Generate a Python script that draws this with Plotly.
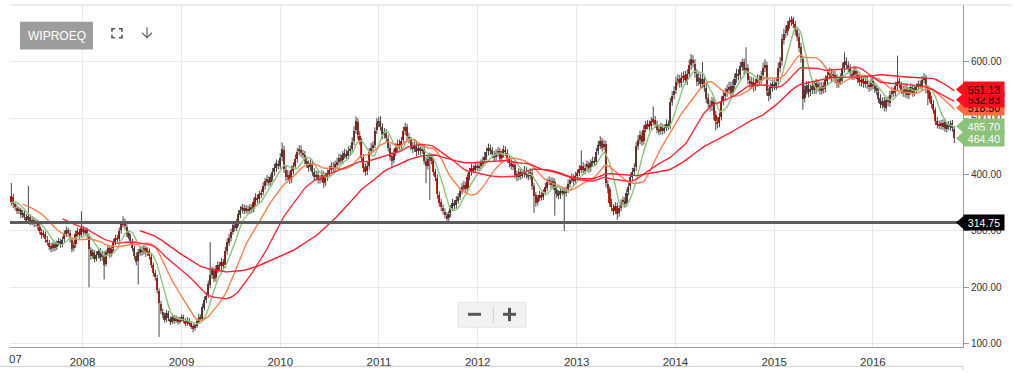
import pandas as pd
import plotly.graph_objects as go

# ---------------- weekly OHLC data, one list per year ----------------
open_2007 = [342,346,351,355,349,353,359,354,346,341,346,351,357,354,351,360,347,341,336,337,329,331,324,319,325,316,319,313,315,307,299,293,294,284,279,273,269,275,271,279,281,276,285,295,301,297,284,269,276,294,299,293]
high_2007 = [351,355,362,359,357,367,364,358,351,351,357,362,365,360,385,366,352,347,343,341,338,336,330,380,330,326,324,322,320,313,304,301,299,291,284,279,281,281,283,288,286,290,301,308,306,302,288,281,301,306,304,335]
low_2007 = [337,342,346,342,345,348,349,342,334,337,341,347,348,344,345,341,336,330,330,323,323,319,313,313,310,310,307,307,302,294,286,288,279,274,266,262,264,264,266,273,270,271,280,289,292,279,262,264,270,289,286,288]
close_2007 = [345,350,356,348,352,360,355,347,340,345,352,356,355,350,362,348,342,335,338,328,332,325,318,326,315,320,312,316,308,300,292,295,285,280,272,268,276,270,278,282,275,284,296,302,298,285,268,275,295,300,292,305]

open_2008 = [303,297,301,290,266,256,261,251,257,264,253,258,242,261,269,259,269,281,287,286,301,311,317,307,296,289,281,269,256,246,261,267,263,269,261,264,254,239,226,217,193,171,157,151,143,154,144,139,147,141,144,139]
high_2008 = [309,307,306,296,271,268,266,264,270,270,265,264,267,276,274,274,286,293,293,306,317,326,322,312,301,295,286,274,262,268,273,273,275,274,271,269,259,244,231,222,198,176,162,155,160,158,148,153,151,150,148,147]
low_2008 = [293,292,286,200,249,251,244,246,251,246,247,214,237,256,252,254,264,275,280,281,295,306,302,289,285,276,264,249,239,205,256,256,258,254,256,249,234,219,212,189,112,152,145,137,138,140,133,135,135,137,134,135]
close_2008 = [298,302,292,268,255,262,250,258,265,252,260,240,262,270,258,268,280,288,285,300,312,318,308,295,290,282,270,255,245,262,268,262,270,260,265,255,240,225,218,195,172,158,150,142,155,145,138,148,140,145,138,142]

open_2009 = [143,147,141,136,141,136,131,127,132,139,147,146,164,177,186,204,221,229,216,231,239,237,244,240,264,279,287,299,309,306,314,329,337,341,337,339,336,341,339,351,359,356,364,369,379,387,391,386,394,404,411,419]
high_2009 = [152,151,145,147,145,140,135,137,145,153,152,171,184,191,212,280,236,235,239,246,245,252,250,272,287,295,304,317,315,321,337,344,348,347,346,345,348,347,358,367,365,371,374,387,394,399,397,401,412,419,427,425]
low_2009 = [139,136,131,132,131,126,120,123,128,135,140,141,159,172,181,198,215,209,210,225,230,231,232,234,258,273,281,293,299,300,308,323,331,330,331,329,330,332,333,345,349,350,358,363,373,381,379,380,388,398,405,409]
close_2009 = [148,140,135,142,135,130,126,133,140,148,145,165,178,185,205,222,230,215,232,240,236,245,238,265,280,288,298,310,305,315,330,338,342,336,340,335,342,338,352,360,355,365,368,380,388,392,385,395,405,412,420,415]

open_2010 = [416,431,444,409,396,399,391,407,416,427,441,444,437,434,424,417,413,419,404,396,399,391,393,399,386,396,401,409,414,411,417,423,429,426,434,437,433,441,446,459,479,494,469,459,429,413,406,416,441,447,453,479,491]
high_2010 = [438,457,451,416,408,406,416,422,436,447,452,452,444,442,431,425,427,426,412,407,407,399,408,406,403,409,416,422,422,425,430,437,437,442,446,444,450,452,466,486,503,500,477,465,436,420,423,447,456,459,484,500,502]
low_2010 = [410,424,403,388,390,383,385,400,409,421,434,431,428,418,412,405,407,398,389,389,384,384,387,376,380,389,395,402,404,404,411,416,419,419,428,425,427,434,439,452,472,462,453,422,404,398,399,409,434,440,447,472,484]
close_2010 = [430,445,410,395,400,390,408,415,428,440,445,438,435,425,418,412,420,405,395,400,390,392,400,385,395,402,408,415,410,418,422,430,425,435,438,432,442,445,458,478,495,470,460,430,412,405,415,440,448,452,478,492,495]

open_2011 = [496,484,471,474,464,447,433,426,439,447,454,451,461,477,484,467,461,451,446,451,441,447,443,445,424,416,427,431,424,404,394,364,351,341,334,327,323,331,341,349,346,354,361,371,377,381,376,396,404,411,409,414]
high_2011 = [504,491,483,481,470,454,440,445,456,462,462,467,485,492,490,474,467,458,459,457,455,453,453,451,431,435,439,437,430,410,400,370,357,347,340,333,336,346,357,355,362,367,377,385,389,387,402,412,419,417,422,420]
low_2011 = [478,463,464,458,441,425,412,420,433,440,443,445,455,470,461,455,443,438,440,433,435,435,437,418,385,409,355,418,398,388,357,343,335,329,322,316,317,325,335,339,340,348,355,365,371,368,370,390,398,402,403,406]
close_2011 = [485,470,475,465,448,432,425,438,448,455,450,460,478,485,468,462,450,445,452,440,448,442,446,425,415,428,432,425,405,395,365,350,342,335,328,322,330,340,350,345,355,360,370,378,382,375,395,405,412,408,415,412]

open_2012 = [413,416,419,426,431,441,447,443,435,431,437,441,429,436,444,439,427,421,414,417,401,396,404,399,401,407,401,397,403,379,363,351,359,363,361,369,377,387,389,383,387,373,366,363,369,371,367,373,383,391,394,389]
high_2012 = [422,427,432,440,448,455,453,449,442,445,449,447,442,452,450,445,434,427,424,423,407,412,410,408,415,413,407,411,409,385,369,364,371,369,374,385,393,397,395,395,393,379,372,376,376,377,379,391,396,402,400,405]
low_2012 = [407,410,413,420,425,434,435,429,423,425,431,421,423,430,433,421,413,409,408,393,388,390,391,393,395,393,390,391,373,332,343,345,353,354,355,363,371,381,375,377,327,359,356,357,363,300,361,367,377,385,382,383]
close_2012 = [415,420,425,432,440,448,442,436,430,438,442,428,435,445,440,428,420,415,418,400,395,405,398,402,408,400,396,404,380,362,350,358,364,360,368,378,386,390,382,388,372,365,362,370,370,366,372,384,390,395,388,398]

open_2013 = [399,403,409,416,407,413,417,411,421,424,423,441,451,459,449,455,384,374,351,341,336,344,331,341,351,354,349,369,379,396,404,413,451,461,469,459,481,487,489,486,494,497,489,481,477,483,479,483,489,487,529,541]
high_2013 = [409,417,443,422,419,425,423,427,432,431,447,460,468,465,462,460,390,379,357,347,351,350,346,356,361,360,374,385,402,412,420,458,470,478,476,488,495,497,496,502,521,504,496,488,492,490,489,498,496,536,548,557]
low_2013 = [393,397,403,401,401,407,403,405,415,415,417,435,445,441,443,377,367,343,335,328,330,320,325,335,345,341,343,363,373,389,398,406,444,454,451,453,475,480,478,480,487,483,473,470,471,471,473,477,479,481,522,534]
close_2013 = [402,410,415,408,412,418,410,420,425,422,440,452,460,448,455,385,375,350,342,335,345,330,340,350,355,348,368,378,395,405,412,450,462,470,458,480,488,490,485,495,498,490,480,476,484,478,482,490,486,528,540,548]

open_2014 = [550,566,569,563,571,576,567,579,594,604,597,579,566,571,561,569,554,536,524,521,529,506,494,491,503,531,539,546,551,557,546,559,571,579,576,591,599,586,589,567,561,564,556,563,569,566,576,589,594,547,541,554]
high_2014 = [574,578,577,581,583,584,587,604,614,612,605,587,581,579,600,577,562,544,532,538,537,513,502,510,539,548,554,560,565,565,567,579,588,587,600,606,606,626,596,575,573,572,570,578,577,584,599,605,600,554,563,569]
low_2014 = [543,558,554,555,563,560,559,571,586,590,572,557,558,552,553,547,527,517,512,513,497,478,482,484,496,523,532,538,544,537,539,552,563,567,569,584,577,579,560,552,553,547,549,556,557,558,569,582,540,530,534,547]
close_2014 = [565,570,562,572,575,568,578,595,605,598,580,565,572,560,570,555,535,525,520,530,505,495,490,502,530,540,545,552,556,545,558,570,580,575,592,600,585,590,568,560,565,555,562,570,565,575,590,595,548,540,555,560]

open_2015 = [561,557,566,589,601,639,651,654,666,671,676,667,656,644,626,605,536,549,559,546,551,559,551,561,556,549,557,553,567,576,581,573,577,571,561,567,573,589,601,594,589,579,576,584,577,571,564,569,561,567,559,556]
high_2015 = [569,573,599,609,649,659,664,673,679,681,680,673,663,652,634,611,559,566,566,560,566,566,570,568,564,564,564,576,583,590,588,586,584,578,574,580,599,617,608,601,596,586,593,591,584,578,575,576,573,574,566,573]
low_2015 = [550,550,558,581,593,631,643,647,659,664,660,647,637,617,599,515,528,542,537,539,543,543,543,547,542,542,544,546,559,569,564,565,562,554,554,559,565,581,587,580,572,568,568,570,562,557,556,554,554,552,547,549]
close_2015 = [558,565,590,600,640,650,655,665,672,675,668,655,645,625,608,535,550,558,545,552,558,550,562,555,550,556,552,568,575,582,572,578,570,562,566,572,590,600,595,588,580,575,585,578,570,565,568,562,566,560,555,565]

open_2016 = [566,557,553,547,536,524,531,519,533,527,543,547,546,557,566,559,551,544,553,541,549,554,546,551,556,561,557,569,571,551,546,534,526,514,496,487,491,485,493,481,489,484,491,481]
high_2016 = [573,564,560,553,543,537,538,538,539,549,555,554,565,611,572,565,558,559,559,555,562,560,559,562,567,567,575,580,577,558,552,540,532,519,502,496,497,498,499,494,495,496,497,486]
low_2016 = [551,545,541,527,518,517,512,512,521,520,536,538,539,550,553,543,538,537,535,534,542,538,539,544,549,551,550,562,544,523,528,518,508,488,482,481,480,479,476,475,479,478,476,456]
close_2016 = [558,552,548,535,525,530,520,532,528,542,548,545,558,565,560,550,545,552,542,548,555,545,552,555,560,558,568,572,552,545,535,525,515,495,488,490,486,492,482,488,485,490,482,464.4]

first_week = "2007-01-05"  # first weekly bar (Fridays)

# moving-average periods (in weekly bars) and their colours
ma_periods = [8, 21, 42, 83]
ma_colors = ["#8cc47c", "#ff7f50", "#ff2b3c", "#ff1f2f"]

# right-hand value callouts: (text, value, background, text colour)
callout_texts = ["518.50", "532.83", "551.13", "485.70", "464.40", "314.75"]
callout_values = [518.50, 532.83, 551.13, 485.70, 464.40, 314.75]
callout_bg = ["#ff6a3d", "#ff0d1e", "#ff0d1e", "#8cc27a", "#8cc27a", "#000000"]
callout_fg = ["#000000", "#000000", "#000000", "#ffffff", "#ffffff", "#ffffff"]

support_level = 314.75
year_ticks = list(range(2008, 2017))
y_ticks = [100, 200, 300, 400, 500, 600]
Y_RANGE = [94, 701]
X_RANGE = ["2007-04-08", "2016-11-29"]

# ---------------- assemble ----------------
yrs = range(2007, 2017)
opens = sum([globals()[f"open_{y}"] for y in yrs], [])
highs = sum([globals()[f"high_{y}"] for y in yrs], [])
lows = sum([globals()[f"low_{y}"] for y in yrs], [])
closes = sum([globals()[f"close_{y}"] for y in yrs], [])
dates = pd.date_range(first_week, periods=len(closes), freq="W-FRI")

fig = go.Figure()

# wicks
wx, wy = [], []
for d, h, l in zip(dates, highs, lows):
    wx += [d, d, None]
    wy += [l, h, None]
fig.add_trace(go.Scatter(x=wx, y=wy, mode="lines", line=dict(color="#333333", width=0.9),
                         hoverinfo="skip", showlegend=False))

# bodies
bases = [min(o, c) for o, c in zip(opens, closes)]
heights = [max(abs(c - o), 1.0) for o, c in zip(opens, closes)]
body_colors = ["#cc2a1c" if c < o else "#a8261a" for o, c in zip(opens, closes)]
fig.add_trace(go.Bar(x=dates, y=heights, base=bases, width=6 * 86400000,
                     marker=dict(color=body_colors, line=dict(width=0)),
                     hoverinfo="skip", showlegend=False))

# moving averages
s = pd.Series(closes, index=dates)
for p, col in zip(ma_periods, ma_colors):
    ma = s.rolling(p).mean()
    fig.add_trace(go.Scatter(x=dates, y=ma.values, mode="lines",
                             line=dict(color=col, width=1.4), hoverinfo="skip", showlegend=False))

# ---------------- layout ----------------
W, H = 1015, 373
ML, MR, MT, MB = 10, 52, 5, 23
PW, PH = W - ML - MR, H - MT - MB


def px(x):
    return (x - ML) / PW


def py(y):
    return (H - MB - y) / PH


def pv(v):
    return (v - Y_RANGE[0]) / (Y_RANGE[1] - Y_RANGE[0])


FONT = "Liberation Sans, Arial, Helvetica, sans-serif"

fig.update_layout(
    width=W, height=H,
    margin=dict(l=ML, r=MR, t=MT, b=MB),
    paper_bgcolor="white", plot_bgcolor="white",
    showlegend=False, bargap=0,
    font=dict(family=FONT, color="#333333"),
    xaxis=dict(type="date", range=X_RANGE,
               tickvals=[f"{y}-01-01" for y in year_ticks], ticktext=[str(y) for y in year_ticks],
               tickfont=dict(size=11.5, color="#333333"), ticklabelstandoff=4,
               showgrid=True, gridcolor="#e8e8e8", gridwidth=1,
               showline=True, linecolor="#9a9a9a", linewidth=1, zeroline=False, ticks=""),
    yaxis=dict(side="right", range=Y_RANGE, tickvals=y_ticks,
               ticktext=[f"{v:.2f}" for v in y_ticks],
               tickfont=dict(size=10, color="#333333"),
               ticks="outside", ticklen=5, tickcolor="#9a9a9a",
               showgrid=True, gridcolor="#e8e8e8", gridwidth=1,
               showline=True, linecolor="#9a9a9a", linewidth=1, zeroline=False),
)

shapes = []
# support line
shapes.append(dict(type="line", xref="paper", yref="y", x0=0, x1=1, y0=support_level, y1=support_level,
                   line=dict(color="#5c5c5c", width=3), layer="above"))
# top frame line and bottom navigator line
shapes.append(dict(type="line", xref="paper", yref="paper", x0=0, x1=px(1012), y0=1, y1=1,
                   line=dict(color="#dadada", width=1)))
shapes.append(dict(type="line", xref="paper", yref="paper", x0=px(0), x1=1, y0=py(369.5), y1=py(369.5),
                   line=dict(color="#cccccc", width=1)))
shapes.append(dict(type="line", xref="paper", yref="paper", x0=1, x1=1, y0=py(369.5), y1=py(373),
                   line=dict(color="#cccccc", width=1)))
# title button
shapes.append(dict(type="rect", xref="paper", yref="paper", x0=px(20), x1=px(93), y0=py(50), y1=py(22),
                   fillcolor="#9d9d9d", line=dict(width=0), layer="above"))
# fullscreen icon corners
L_, R_, T_, B_, a = 112, 122, 29, 38, 3
corner = (f"M{px(L_)},{py(T_+a)} L{px(L_)},{py(T_)} L{px(L_+a)},{py(T_)} "
          f"M{px(R_-a)},{py(T_)} L{px(R_)},{py(T_)} L{px(R_)},{py(T_+a)} "
          f"M{px(R_)},{py(B_-a)} L{px(R_)},{py(B_)} L{px(R_-a)},{py(B_)} "
          f"M{px(L_+a)},{py(B_)} L{px(L_)},{py(B_)} L{px(L_)},{py(B_-a)}")
shapes.append(dict(type="path", xref="paper", yref="paper", path=corner,
                   line=dict(color="#555555", width=1.6), layer="above"))
# download arrow
arrow = (f"M{px(147)},{py(27.5)} L{px(147)},{py(38)} "
         f"M{px(142)},{py(33)} L{px(147)},{py(38)} L{px(152)},{py(33)}")
shapes.append(dict(type="path", xref="paper", yref="paper", path=arrow,
                   line=dict(color="#666666", width=1.2), layer="above"))
# zoom buttons
shapes.append(dict(type="rect", xref="paper", yref="paper", x0=px(458), x1=px(526), y0=py(330), y1=py(305),
                   fillcolor="#f2f2f2", line=dict(color="#e3e3e3", width=1), layer="above"))
shapes.append(dict(type="rect", xref="paper", yref="paper", x0=px(468), x1=px(481), y0=py(318.5), y1=py(315.5),
                   fillcolor="#555555", line=dict(width=0), layer="above"))
shapes.append(dict(type="rect", xref="paper", yref="paper", x0=px(503), x1=px(516), y0=py(318.5), y1=py(315.5),
                   fillcolor="#555555", line=dict(width=0), layer="above"))
shapes.append(dict(type="rect", xref="paper", yref="paper", x0=px(508), x1=px(511), y0=py(324), y1=py(310.5),
                   fillcolor="#555555", line=dict(width=0), layer="above"))
shapes.append(dict(type="line", xref="paper", yref="paper", x0=px(493.3), x1=px(493.3), y0=py(326), y1=py(309),
                   line=dict(color="#cfcfcf", width=1), layer="above"))
# callout tips
half = 7.5 / PH
for v, bg in zip(callout_values, callout_bg):
    yc = pv(v)
    shapes.append(dict(type="path", xref="paper", yref="paper",
                       path=f"M{px(956)},{yc} L{px(964.5)},{yc + half} L{px(964.5)},{yc - half} Z",
                       fillcolor=bg, line=dict(width=0), layer="above"))

fig.update_layout(shapes=shapes)

ann = []
ann.append(dict(xref="paper", yref="paper", x=px(7), y=py(362.5), xanchor="left", yanchor="middle",
                text="07", showarrow=False, font=dict(size=11.5, color="#333333", family=FONT)))
ann.append(dict(xref="paper", yref="paper", x=px(56.5), y=py(36), xanchor="center", yanchor="middle",
                text="WIPROEQ", showarrow=False, font=dict(size=12, color="#ffffff", family=FONT)))
for t, v, bg, fg in zip(callout_texts, callout_values, callout_bg, callout_fg):
    ann.append(dict(xref="paper", yref="y", x=px(984), y=v, xanchor="center", yanchor="middle",
                    text=t, showarrow=False, bgcolor=bg, borderpad=1.5, width=37, height=12,
                    align="center", font=dict(size=10.5, color=fg, family=FONT)))
fig.update_layout(annotations=ann)

fig.write_html("out.html", config={"displayModeBar": False},
               post_script="document.body.style.margin='0px';document.body.style.overflow='hidden';")
